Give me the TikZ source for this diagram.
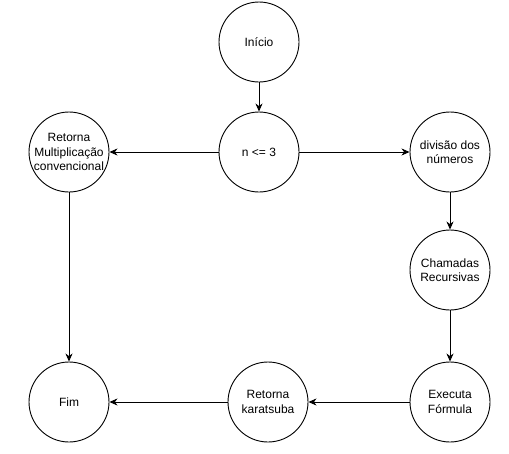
\documentclass[tikz,border=0pt]{standalone}
\usepackage{fontspec}
\setmainfont{Liberation Sans}
\usetikzlibrary{arrows.meta}
\begin{document}
\begin{tikzpicture}[x=1pt,y=-1pt,
  state/.style={circle,draw=black,line width=0.9pt,minimum size=80pt,inner sep=0pt,align=center,font=\fontsize{12}{14.4}\selectfont,fill=white},
  conn/.style={line width=0.9pt,-{Stealth[length=8pt,width=7pt,inset=2.5pt]}}]
\useasboundingbox (0,0) rectangle (509,453);
\node[state] (ini) at (259,42) {Início};
\node[state] (cond) at (259,152) {n <= 3};
\node[state] (mult) at (69,152) {Retorna\\Multiplicação\\convencional};
\node[state] (div) at (450,152) {divisão dos\\números};
\node[state] (cham) at (450,270) {Chamadas\\Recursivas};
\node[state] (exec) at (450,402) {Executa\\Fórmula};
\node[state] (kara) at (268,402) {Retorna\\karatsuba};
\node[state] (fim) at (69,402) {Fim};
\draw[conn] (ini) -- (cond);
\draw[conn] (cond) -- (mult);
\draw[conn] (cond) -- (div);
\draw[conn] (div) -- (cham);
\draw[conn] (cham) -- (exec);
\draw[conn] (exec) -- (kara);
\draw[conn] (kara) -- (fim);
\draw[conn] (mult) -- (fim);
\end{tikzpicture}
\end{document}
